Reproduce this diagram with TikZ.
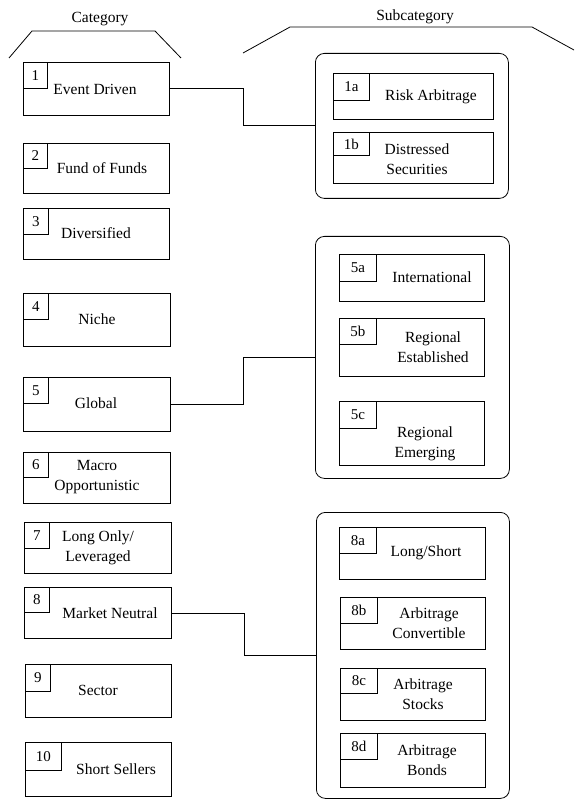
\documentclass[tikz,border=0pt]{standalone}
\usepackage{fontspec}
\setmainfont{Liberation Serif}
\begin{document}
\begin{tikzpicture}[x=1pt,y=-1pt,
  line width=0.8pt,
  box/.style={draw, rectangle, inner sep=0pt, anchor=north west},
  numbox/.style={draw, rectangle, inner sep=0pt, anchor=north west, font=\fontsize{15}{18}\selectfont},
  grp/.style={draw, rectangle, rounded corners=9pt, inner sep=0pt, anchor=north west},
  lbl/.style={align=center, inner sep=0pt, font=\fontsize{15.5}{20.5}\selectfont},
  hdr/.style={inner sep=0pt, font=\fontsize{15.5}{19}\selectfont},
  conn/.style={draw, line width=0.8pt}]
\useasboundingbox (0,0) rectangle (574,799);
% name, x, y, w, h, numw, numh, number
\newcommand{\mkbox}[8]{%
  \node[box, minimum width=#4, minimum height=#5] (#1) at (#2,#3) {};
  \node[numbox, minimum width=#6, minimum height=#7] (#1n) at (#1.north west) {#8};
}
% headers
\node[hdr] (hcat) at (100,19) {Category};
\node[hdr] (hsub) at (415,17) {Subcategory};
\draw (9,58) -- (32,31) -- (155,31) -- (181,58);
\draw (243,53) -- (290,27) -- (532,27) -- (574,50);
% categories
\mkbox{c1}{23}{62}{146}{53}{24}{26}{1}
\node[lbl] (c1t) at (95,89) {Event Driven};
\mkbox{c2}{23}{143}{146}{50}{24}{25}{2}
\node[lbl] (c2t) at (102,168) {Fund of Funds};
\mkbox{c3}{23}{208}{146}{51}{25}{26}{3}
\node[lbl] (c3t) at (96,233) {Diversified};
\mkbox{c4}{23}{293}{147}{53}{25}{26}{4}
\node[lbl] (c4t) at (97,319) {Niche};
\mkbox{c5}{23}{377}{147}{54}{25}{26}{5}
\node[lbl] (c5t) at (96,403) {Global};
\mkbox{c6}{23}{452}{147}{51}{25}{25}{6}
\node[lbl] (c6t) at (97,477) {Macro\\Opportunistic};
\mkbox{c7}{24}{522}{147}{51}{25}{26}{7}
\node[lbl] (c7t) at (98,548) {Long Only/\\Leveraged};
\mkbox{c8}{24}{587}{147}{51}{25}{25}{8}
\node[lbl] (c8t) at (110,613) {Market Neutral};
\mkbox{c9}{25}{664}{146}{53}{25}{27}{9}
\node[lbl] (c9t) at (98,690) {Sector};
\mkbox{c10}{25}{742}{146}{54}{36}{28}{10}
\node[lbl] (c10t) at (116,769) {Short Sellers};
% groups
\node[grp, minimum width=193, minimum height=145] (g1) at (315,53) {};
\node[grp, minimum width=194, minimum height=242] (g5) at (315,236) {};
\node[grp, minimum width=193, minimum height=286] (g8) at (316,512) {};
% subcategories
\mkbox{s1a}{333}{73}{160}{46}{36}{27}{1a}
\node[lbl] (s1at) at (431,97) {Risk Arbitrage};
\mkbox{s1b}{333}{132}{160}{51}{36}{23}{1b}
\node[lbl] (s1bt) at (417,159) {Distressed\\Securities};
\mkbox{s5a}{339}{254}{145}{47}{37}{27}{5a}
\node[lbl] (s5at) at (432,277) {International};
\mkbox{s5b}{339}{318}{145}{58}{37}{26}{5b}
\node[lbl] (s5bt) at (433,347) {Regional\\Established};
\mkbox{s5c}{339}{401}{145}{64}{37}{27}{5c}
\node[lbl] (s5ct) at (425,444) {Regional\\Emerging};
\mkbox{s8a}{339}{527}{146}{52}{37}{26}{8a}
\node[lbl] (s8at) at (426,553) {Long/Short};
\mkbox{s8b}{340}{597}{145}{52}{37}{26}{8b}
\node[lbl] (s8bt) at (429,623) {Arbitrage\\Convertible};
\mkbox{s8c}{340}{668}{145}{52}{37}{25}{8c}
\node[lbl] (s8ct) at (423,694) {Arbitrage\\Stocks};
\mkbox{s8d}{340}{733}{145}{54}{37}{26}{8d}
\node[lbl] (s8dt) at (427,760) {Arbitrage\\Bonds};
% connectors
\coordinate (k1) at (243,0);
\coordinate (k8) at (244,0);
\draw[conn] (c1.east) -- (c1.east -| k1) |- (g1.west);
\draw[conn] (c5.east) -- (c5.east -| k1) |- (g5.west);
\draw[conn] (c8.east) -- (c8.east -| k8) |- (g8.west);
\end{tikzpicture}
\end{document}
